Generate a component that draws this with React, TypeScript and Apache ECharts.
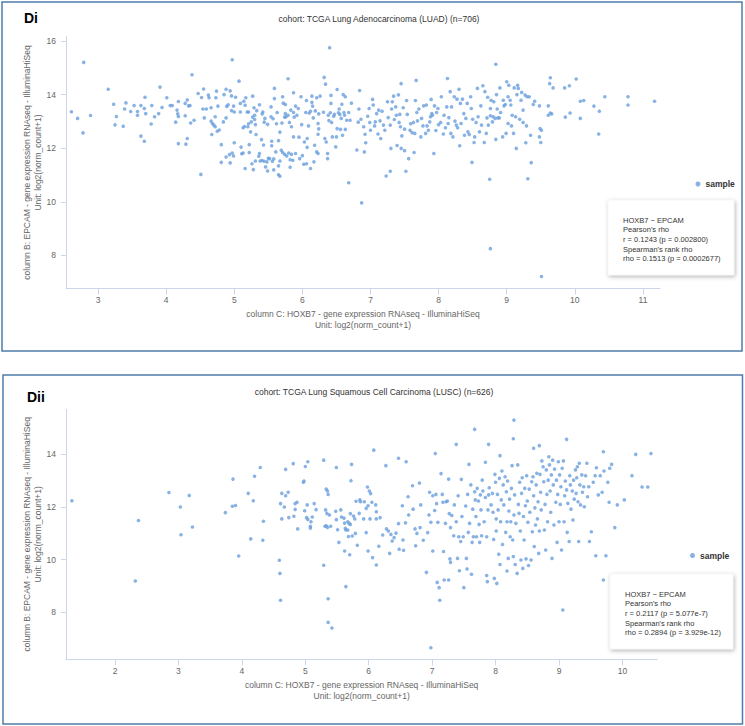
import React, { useEffect, useRef } from "react";
import * as echarts from "echarts";

const luadPoints: number[][] = [
[2.79,15.2],[2.61,13.36],[2.70,13.11],[2.78,12.57],[2.89,13.22],[3.15,14.2],[3.23,13.64],[3.27,13.18],[3.25,12.87],[3.37,12.82],[3.39,13.46],[3.41,13.69],[3.48,13.37],[3.53,13.59],[3.58,13.37],[3.58,13.23],[3.63,13.59],[3.63,12.45],[3.68,12.26],[3.69,13.9],[3.68,13.48],[3.70,13.29],[3.79,13.59],[3.78,12.9],[3.83,13.17],[3.89,13.29],[3.91,14.28],[3.94,13.52],[4.01,13.88],[4.06,13.59],[4.09,13.59],[4.14,12.97],[4.16,13.42],[4.17,13.28],[4.18,13.74],[4.18,13.18],[4.18,12.17],[4.28,13.67],[4.28,13.21],[4.29,12.15],[4.31,12.36],[4.31,13.8],[4.33,13.58],[4.35,13.59],[4.36,12.94],[4.38,14.74],[4.41,13.04],[4.47,14.04],[4.51,11.02],[4.52,13.89],[4.55,14.21],[4.54,13.46],[4.56,13.13],[4.59,13.46],[4.62,13.98],[4.63,13.88],[4.66,13.51],[4.66,13.01],[4.67,12.51],[4.68,12.92],[4.70,12.86],[4.72,13.17],[4.72,12.80],[4.73,13.88],[4.74,14.13],[4.75,12.63],[4.76,13.57],[4.78,12.68],[4.81,12.13],[4.81,11.47],[4.84,12.98],[4.85,14.0],[4.88,14.2],[4.88,13.13],[4.88,11.67],[4.89,13.56],[4.91,13.62],[4.93,11.76],[4.94,11.45],[4.94,14.14],[4.96,13.95],[4.96,13.4],[4.97,15.3],[4.97,11.82],[4.99,13.57],[4.99,11.71],[5.0,13.35],[5.0,12.2],[5.02,13.9],[5.07,14.5],[5.09,13.35],[5.09,13.67],[5.10,12.04],[5.11,11.79],[5.13,12.76],[5.13,11.82],[5.14,13.75],[5.15,12.81],[5.16,11.24],[5.16,13.6],[5.17,13.88],[5.19,13.35],[5.20,12.8],[5.21,13.35],[5.21,12.91],[5.22,12.13],[5.22,11.84],[5.24,12.61],[5.25,12.98],[5.26,11.42],[5.27,13.16],[5.27,13.94],[5.28,11.2],[5.29,13.51],[5.30,13.23],[5.30,13.07],[5.31,11.52],[5.31,12.88],[5.32,12.51],[5.33,13.4],[5.36,11.7],[5.37,13.62],[5.37,11.8],[5.38,11.52],[5.40,12.32],[5.41,13.28],[5.41,11.54],[5.42,13.35],[5.43,12.12],[5.44,12.97],[5.44,11.51],[5.45,13.11],[5.46,11.3],[5.48,11.49],[5.49,11.15],[5.49,12.89],[5.50,11.62],[5.52,11.61],[5.54,13.54],[5.54,13.17],[5.55,12.26],[5.55,12.09],[5.56,11.51],[5.57,13.1],[5.58,11.19],[5.58,11.6],[5.59,14.23],[5.59,13.85],[5.61,11.86],[5.62,12.91],[5.63,13.33],[5.65,12.28],[5.65,11.34],[5.65,11.01],[5.67,10.95],[5.67,12.6],[5.67,11.52],[5.69,11.92],[5.70,12.94],[5.71,13.92],[5.71,11.84],[5.72,13.68],[5.74,11.77],[5.74,13.16],[5.75,13.63],[5.75,13.29],[5.76,13.17],[5.77,11.71],[5.79,14.59],[5.79,13.23],[5.80,11.82],[5.81,12.96],[5.82,11.57],[5.82,11.29],[5.83,13.42],[5.84,11.77],[5.84,12.8],[5.86,11.55],[5.87,14.07],[5.87,13.33],[5.87,12.42],[5.88,13.16],[5.90,13.57],[5.90,11.8],[5.92,13.23],[5.94,13.48],[5.95,12.41],[5.96,11.61],[5.98,13.92],[5.99,12.88],[6.0,11.72],[6.02,11.4],[6.03,12.23],[6.05,13.33],[6.06,13.78],[6.06,11.42],[6.07,12.03],[6.07,12.36],[6.09,12.83],[6.10,13.31],[6.12,13.38],[6.12,11.24],[6.14,13.71],[6.14,13.94],[6.15,13.57],[6.16,13.13],[6.17,11.49],[6.18,12.11],[6.19,13.39],[6.21,11.86],[6.21,13.88],[6.23,12.92],[6.23,12.52],[6.23,11.8],[6.24,13.28],[6.24,12.72],[6.26,13.94],[6.31,13.34],[6.32,14.64],[6.34,14.39],[6.33,12.36],[6.35,12.23],[6.37,11.8],[6.37,11.61],[6.38,13.23],[6.39,13.03],[6.40,15.75],[6.41,13.32],[6.42,13.67],[6.42,13.97],[6.43,12.96],[6.44,12.42],[6.46,13.19],[6.47,13.26],[6.49,12.05],[6.50,12.42],[6.51,14.19],[6.51,12.73],[6.53,13.32],[6.54,13.46],[6.55,13.26],[6.56,12.7],[6.57,13.11],[6.58,13.64],[6.59,12.48],[6.60,14.0],[6.61,13.33],[6.62,13.23],[6.63,13.92],[6.63,12.7],[6.65,13.04],[6.68,10.71],[6.68,13.33],[6.70,13.04],[6.72,13.68],[6.80,11.93],[6.82,12.97],[6.83,13.46],[6.84,14.15],[6.87,9.96],
[6.91,11.86],[6.92,12.52],[6.93,12.2],[6.86,13.08],[6.90,12.8],[6.96,13.19],[6.98,13.48],[6.99,12.96],[7.0,12.67],[7.03,13.82],[7.04,13.61],[7.06,12.83],[7.07,12.98],[7.09,13.29],[7.11,12.53],[7.12,13.42],[7.14,13.02],[7.15,12.36],[7.17,13.38],[7.19,12.86],[7.21,12.67],[7.23,10.96],[7.25,13.73],[7.26,13.14],[7.29,11.14],[7.29,12.86],[7.30,11.99],[7.31,13.46],[7.32,13.73],[7.34,13.94],[7.35,13.07],[7.37,13.54],[7.38,13.23],[7.39,12.1],[7.41,13.99],[7.42,12.96],[7.43,13.26],[7.44,12.8],[7.45,14.41],[7.45,11.99],[7.46,12.46],[7.48,13.51],[7.50,11.91],[7.50,12.71],[7.52,11.14],[7.53,13.78],[7.54,13.26],[7.56,11.61],[7.58,12.67],[7.59,12.91],[7.61,12.58],[7.63,12.96],[7.64,11.84],[7.65,12.55],[7.66,13.78],[7.67,14.53],[7.68,13.33],[7.69,13.02],[7.71,13.46],[7.74,12.42],[7.75,13.11],[7.77,12.83],[7.78,13.58],[7.81,12.55],[7.82,13.61],[7.83,12.83],[7.85,12.67],[7.87,12.98],[7.88,13.17],[7.89,13.82],[7.90,13.29],[7.91,13.23],[7.93,11.8],[7.94,13.58],[7.96,12.66],[7.97,13.33],[7.99,13.48],[8.0,12.88],[8.03,12.96],[8.04,13.92],[8.07,12.53],[8.08,13.23],[8.10,12.76],[8.12,13.54],[8.13,14.6],[8.14,12.92],[8.15,13.14],[8.17,14.11],[8.18,12.55],[8.19,13.54],[8.21,12.42],[8.23,13.92],[8.24,13.01],[8.26,12.86],[8.27,13.83],[8.28,12.76],[8.30,14.2],[8.31,12.09],[8.32,13.67],[8.33,12.92],[8.35,13.83],[8.37,13.29],[8.38,12.48],[8.40,13.11],[8.42,13.67],[8.43,12.61],[8.45,12.51],[8.47,13.92],[8.48,13.48],[8.49,11.47],[8.50,13.08],[8.52,12.21],[8.53,12.42],[8.55,12.96],[8.57,14.23],[8.58,13.17],[8.60,12.61],[8.62,13.58],[8.63,12.86],[8.65,14.33],[8.67,12.21],[8.68,14.11],[8.70,12.55],[8.71,13.13],[8.72,13.9],[8.73,12.86],[8.75,10.84],[8.76,13.21],[8.76,13.48],[8.77,13.79],[8.79,12.98],[8.80,13.17],[8.81,13.73],[8.83,13.11],[8.84,15.13],[8.84,12.33],[8.85,14.0],[8.86,13.46],[8.87,13.13],[8.89,13.13],[8.90,14.25],[8.91,13.33],[8.94,12.42],[8.95,13.79],[8.96,13.58],[8.98,13.63],[8.99,12.55],[9.0,14.48],[9.02,12.92],[9.02,13.92],[9.03,14.35],[9.05,13.79],[9.06,13.61],[9.07,12.83],[9.08,13.23],[9.10,12.55],[9.11,14.25],[9.13,13.17],[9.14,11.99],[9.15,14.0],[9.16,14.35],[9.17,14.23],[9.19,13.08],[9.21,13.79],[9.22,14.08],[9.24,13.42],[9.24,12.96],[9.27,13.98],[9.28,12.2],[9.29,12.83],[9.30,13.92],[9.31,10.86],[9.33,13.92],[9.35,12.48],[9.36,11.46],[9.39,13.63],[9.41,13.75],[9.48,13.58],[9.48,12.42],[9.49,12.73],[9.50,12.21],[9.51,12.67],[8.76,8.25],[9.61,13.58],[9.61,13.23],[9.63,14.41],[9.64,14.63],[9.64,13.31],[9.66,13.28],[9.68,14.25],[9.85,14.25],[9.86,13.16],[9.92,14.33],[9.93,13.31],[10.02,14.58],[10.08,13.75],[10.08,13.11],[10.13,13.78],[10.28,13.57],[10.35,12.53],[10.36,13.38],[10.44,13.92],[10.78,13.92],[10.78,13.61],[11.17,13.75],[9.51,7.21]
];

const luscPoints: number[][] = [
[1.32,12.24],[2.32,9.19],[2.37,11.49],[2.85,12.55],[3.03,12.0],[3.04,10.95],[3.17,12.44],[3.22,11.24],[3.74,11.79],[3.85,12.03],[3.86,13.06],[3.90,12.06],[3.95,10.14],[4.10,12.52],[4.14,10.79],[4.18,12.24],[4.20,13.17],[4.29,13.5],[4.34,11.46],[4.33,10.74],[4.59,9.98],[4.60,9.48],[4.61,8.46],[4.61,12.13],[4.63,12.52],[4.63,11.55],[4.67,12.0],[4.69,13.43],[4.69,12.43],[4.73,12.56],[4.74,11.6],[4.81,13.65],[4.82,11.65],[4.84,12.13],[4.84,11.91],[4.87,12.18],[4.88,11.17],[4.97,12.94],[4.98,12.99],[5.0,13.54],[4.99,11.86],[5.02,11.6],[5.03,12.08],[5.04,13.72],[5.04,11.53],[5.08,11.27],[5.09,11.44],[5.08,11.2],[5.11,11.62],[5.14,12.13],[5.17,11.9],[5.29,13.78],[5.29,9.79],[5.31,11.27],[5.32,11.89],[5.33,11.29],[5.33,12.68],[5.35,12.61],[5.36,12.48],[5.36,8.52],[5.34,11.76],[5.35,11.23],[5.38,11.7],[5.40,11.27],[5.36,7.62],[5.42,7.41],[5.48,11.84],[5.49,13.5],[5.49,11.52],[5.51,11.14],[5.53,10.66],[5.56,11.89],[5.57,11.62],[5.61,11.58],[5.62,11.39],[5.62,10.33],[5.63,11.19],[5.64,8.98],[5.64,11.13],[5.67,11.44],[5.67,11.13],[5.68,10.88],[5.69,11.38],[5.70,10.19],[5.71,11.75],[5.71,11.34],[5.72,13.0],[5.73,13.62],[5.74,10.9],[5.76,11.66],[5.78,11.55],[5.79,11.0],[5.80,12.22],[5.82,10.55],[5.85,11.76],[5.86,12.27],
[6.08,14.16],[6.27,13.57],[6.47,13.85],[6.59,13.72],[7.05,14.03],[7.38,14.38],[7.67,14.95],[7.89,14.38],[8.07,13.95],[8.29,15.3],[8.28,14.59],[8.60,14.23],[8.69,14.33],[9.12,14.57],[9.70,14.1],[10.21,14.0],[10.45,14.03],[5.98,12.76],[6.01,12.61],[6.03,12.51],[5.87,12.2],[5.93,12.2],[5.96,11.95],[5.99,12.05],[6.05,12.18],[6.11,12.08],[6.12,11.82],[5.92,11.55],[6.02,11.55],[6.12,11.55],[6.18,11.6],[5.96,11.03],[5.99,10.33],[6.06,10.08],[6.12,9.8],[6.16,10.51],[6.22,10.94],[6.28,11.17],[6.31,11.09],[6.33,10.24],[6.35,10.96],[6.37,10.71],[6.40,10.84],[6.43,11.01],[6.47,11.37],[6.48,10.4],[6.53,12.05],[6.54,10.75],[6.55,10.36],[6.58,11.4],[6.62,12.39],[6.63,11.7],[6.69,12.81],[6.70,11.92],[6.73,11.17],[6.74,10.53],[6.76,11.0],[6.80,12.91],[6.81,11.22],[6.82,12.08],[6.86,10.74],[6.91,9.52],[6.93,11.03],[6.95,11.7],[6.96,12.56],[6.98,11.42],[7.01,10.33],[7.01,12.43],[7.04,11.87],[7.06,12.48],[7.07,12.13],[7.08,9.14],[7.09,11.42],[7.11,8.94],[7.12,8.46],[7.14,13.27],[7.16,12.48],[7.17,12.18],[7.18,10.31],[7.19,9.23],[7.21,11.38],[7.22,12.2],[7.24,12.23],[7.26,13.06],[7.26,9.23],[7.27,11.75],[7.28,10.03],[7.29,9.9],[7.29,11.22],[7.31,11.68],[7.34,10.91],[7.35,12.08],[7.38,11.44],[7.40,10.05],[7.41,12.43],[7.42,10.87],[7.43,9.58],[7.45,10.69],[7.46,13.05],[7.47,11.64],[7.49,10.87],[7.50,8.94],[7.53,12.04],[7.54,10.05],[7.55,9.65],[7.56,12.48],[7.57,11.04],[7.58,13.62],[7.59,11.38],[7.61,12.84],[7.62,9.45],[7.63,10.66],[7.64,11.92],[7.65,10.87],[7.67,12.58],[7.68,12.27],[7.69,11.64],[7.70,10.87],[7.71,12.71],[7.73,12.23],[7.74,11.34],[7.75,10.66],[7.76,12.46],[7.77,11.89],[7.78,10.91],[7.79,13.02],[7.80,12.61],[7.82,11.44],[7.84,13.7],[7.84,12.36],[7.86,10.87],[7.86,9.4],[7.87,9.17],[7.88,11.89],[7.89,12.46],[7.90,12.73],[7.93,12.08],[7.95,12.52],[7.96,11.8],[7.97,10.77],[7.98,9.29],[7.99,13.24],[8.0,12.94],[8.01,11.55],[8.01,11.09],[8.02,9.1],[8.03,12.48],[8.04,11.89],[8.05,10.21],[8.06,13.09],[8.07,9.82],[8.08,11.44],[8.09,12.27],[8.10,13.37],[8.11,10.58],[8.12,12.84],[8.13,12.08],[8.15,13.15],[8.16,11.04],[8.17,12.58],[8.18,11.44],[8.18,9.57],[8.19,12.99],[8.20,10.05],[8.21,11.85],[8.22,12.3],[8.23,10.87],[8.24,11.44],[8.25,12.71],[8.26,13.57],[8.27,10.75],[8.28,10.12],[8.29,11.7],[8.30,12.46],[8.31,9.82],[8.32,11.38],[8.34,9.48],[8.35,13.6],[8.36,12.1],[8.37,11.76],[8.38,12.94],[8.39,11.09],[8.40,9.99],[8.41,12.52],[8.42,13.11],[8.43,9.67],[8.44,11.64],[8.45,10.75],[8.46,12.71],[8.47,12.05],[8.48,10.03],[8.49,13.19],[8.50,12.23],[8.51,11.42],[8.52,9.78],[8.53,12.68],[8.54,11.8],[8.56,9.99],[8.57,12.96],[8.58,11.06],[8.59,13.15],[8.60,12.43],[8.61,10.5],[8.62,11.97],[8.63,11.32],[8.64,12.84],[8.65,13.28],[8.66,11.55],[8.67,12.2],[8.68,10.24],[8.69,11.09],[8.70,13.24],[8.71,12.56],[8.72,11.89],[8.73,13.75],[8.75,13.53],[8.76,12.96],[8.77,11.13],[8.78,12.1],[8.79,10.37],[8.80,13.41],[8.81,12.48],[8.82,11.44],[8.83,13.02],[8.84,13.91],[8.85,13.6],[8.86,12.61],[8.87,11.8],[8.88,13.22],[8.89,10.05],[8.90,13.78],[8.91,12.84],[8.92,11.32],[8.93,13.44],[8.95,12.18],[8.96,13.02],[8.97,10.66],[8.98,12.48],[8.99,13.72],[9.0,11.44],[9.01,13.22],[9.02,12.1],[9.03,12.77],[9.04,10.37],[9.05,13.47],[9.06,8.09],[9.07,13.75],[9.08,11.44],[9.09,12.43],[9.10,12.99],[9.12,12.65],[9.13,11.04],[9.14,12.14],[9.16,10.69],[9.17,13.19],[9.18,12.84],[9.19,11.92],[9.21,12.61],[9.22,11.51],[9.23,13.02],[9.24,12.3],[9.26,13.41],[9.27,12.52],[9.28,13.11],[9.29,13.53],[9.30,12.2],[9.31,10.69],[9.32,13.66],[9.33,12.84],[9.34,12.08],[9.36,13.22],[9.37,12.56],[9.39,12.77],[9.40,12.01],[9.42,13.19],[9.44,13.66],[9.45,12.39],[9.47,12.77],[9.48,10.69],[9.51,11.06],[9.54,12.94],[9.57,13.19],[9.58,10.15],[9.59,13.49],[9.62,12.46],[9.65,13.19],[9.68,12.56],[9.70,9.23],[9.71,13.37],[9.74,10.15],[9.77,12.94],[9.79,12.18],[9.80,13.47],[9.83,13.62],[9.88,11.22],[9.92,12.08],[10.03,12.27],[10.15,13.19],[10.31,12.76],[10.40,12.76],[6.98,6.66]
];

const xTicksLuad = [3, 4, 5, 6, 7, 8, 9, 10, 11];
const yTicksLuad = [8, 10, 12, 14, 16];
const xTicksLusc = [2, 3, 4, 5, 6, 7, 8, 9, 10];
const yTicksLusc = [8, 10, 12, 14];

const panelLabels = ["Di", "Dii"];
const cohortTitles = [
  "cohort: TCGA Lung Adenocarcinoma (LUAD) (n=706)",
  "cohort: TCGA Lung Squamous Cell Carcinoma (LUSC) (n=626)",
];
const xAxisName = "column C: HOXB7 - gene expression RNAseq - IlluminaHiSeq\nUnit: log2(norm_count+1)";
const yAxisName = "column B: EPCAM - gene expression RNAseq - IlluminaHiSeq\nUnit: log2(norm_count+1)";
const seriesName = "sample";
const statsLuad = [
  "HOXB7 ~ EPCAM",
  "Pearson's rho",
  "r = 0.1243 (p = 0.002800)",
  "Spearman's rank rho",
  "rho = 0.1513 (p = 0.0002677)",
];
const statsLusc = [
  "HOXB7 ~ EPCAM",
  "Pearson's rho",
  "r = 0.2117 (p = 5.077e-7)",
  "Spearman's rank rho",
  "rho = 0.2894 (p = 3.929e-12)",
];

const FONT = "'Liberation Sans', Arial, Helvetica, sans-serif";
const AXIS_COLOR = "#ccd6eb";
const LABEL_COLOR = "#666666";
const DOT_COLOR = "#6a9fdc";

function makeX(gridIndex: number, min: number, max: number, ticks: number[]) {
  return {
    type: "value",
    gridIndex,
    min,
    max,
    name: xAxisName,
    nameLocation: "middle",
    nameGap: 20,
    nameTextStyle: { color: LABEL_COLOR, fontSize: 8.5, fontFamily: FONT, lineHeight: 11 },
    axisLine: { show: true, onZero: false, lineStyle: { color: AXIS_COLOR, width: 1 } },
    axisTick: { show: true, length: 6, customValues: ticks, lineStyle: { color: AXIS_COLOR } },
    axisLabel: { customValues: ticks, color: LABEL_COLOR, fontSize: 8.5, fontFamily: FONT, margin: 7 },
    splitLine: { show: false },
  };
}

function makeY(gridIndex: number, min: number, max: number, ticks: number[]) {
  return {
    type: "value",
    gridIndex,
    min,
    max,
    name: yAxisName,
    nameLocation: "middle",
    nameGap: 23,
    nameMoveOverlap: false,
    nameRotate: 90,
    nameTextStyle: { color: LABEL_COLOR, fontSize: 8.5, fontFamily: FONT, lineHeight: 11 },
    axisLine: { show: true, onZero: false, lineStyle: { color: AXIS_COLOR, width: 1 } },
    axisTick: { show: true, length: 5, customValues: ticks, lineStyle: { color: AXIS_COLOR } },
    axisLabel: { customValues: ticks, color: LABEL_COLOR, fontSize: 8.5, fontFamily: FONT, margin: 10 },
    splitLine: { show: false },
  };
}

function statsBox(x: number, y: number, w: number, h: number, lines: string[]) {
  return [
    {
      type: "rect",
      shape: { x, y, width: w, height: h },
      style: {
        fill: "#ffffff",
        stroke: "#eeeeee",
        lineWidth: 0.5,
        shadowBlur: 4,
        shadowColor: "rgba(0,0,0,0.3)",
        shadowOffsetX: 1,
        shadowOffsetY: 1.5,
      },
      z: 10,
    },
    {
      type: "text",
      x: x + 15,
      y: y + 15.5,
      style: {
        text: lines.join("\n"),
        font: `7.5px ${FONT}`,
        fill: "#333333",
        lineHeight: 9.6,
      },
      z: 11,
    },
  ];
}

export default function App() {
  const ref = useRef<HTMLDivElement>(null);

  useEffect(() => {
    document.body.style.margin = "0";
    if (!ref.current) return;
    const chart = echarts.init(ref.current, undefined, { renderer: "svg" });
    const option = {
      animation: false,
      backgroundColor: "#ffffff",
      textStyle: { fontFamily: FONT },
      grid: [
        { left: 66, top: 36.7, width: 594, height: 251.6 },
        { left: 66, top: 409.3, width: 591.3, height: 250 },
      ],
      xAxis: [
        makeX(0, 2.53, 11.25, xTicksLuad),
        makeX(1, 1.227, 10.55, xTicksLusc),
      ],
      yAxis: [
        makeY(0, 6.77, 16.16, yTicksLuad),
        makeY(1, 6.22, 15.71, yTicksLusc),
      ],
      legend: [
        {
          left: 695.5,
          top: 179.5,
          padding: 0,
          data: [seriesName],
          icon: "circle",
          itemWidth: 5,
          itemHeight: 5,
          selectedMode: false,
          textStyle: { fontWeight: "bold", fontSize: 8.5, color: "#333333", fontFamily: FONT },
        },
        {
          left: 690,
          top: 551,
          padding: 0,
          data: [seriesName],
          icon: "circle",
          itemWidth: 5,
          itemHeight: 5,
          selectedMode: false,
          textStyle: { fontWeight: "bold", fontSize: 8.5, color: "#333333", fontFamily: FONT },
        },
      ],
      series: [
        {
          name: seriesName,
          type: "scatter",
          xAxisIndex: 0,
          yAxisIndex: 0,
          data: luadPoints,
          symbolSize: 3.6,
          itemStyle: { color: DOT_COLOR },
        },
        {
          name: seriesName,
          type: "scatter",
          xAxisIndex: 1,
          yAxisIndex: 1,
          data: luscPoints,
          symbolSize: 3.6,
          itemStyle: { color: DOT_COLOR },
        },
      ],
      graphic: [
        {
          type: "rect",
          shape: { x: 2, y: 2, width: 740, height: 349 },
          style: { fill: "none", stroke: "#4e7cab", lineWidth: 1.5 },
          silent: true,
        },
        {
          type: "rect",
          shape: { x: 3, y: 375, width: 739.5, height: 349 },
          style: { fill: "none", stroke: "#4e7cab", lineWidth: 1.5 },
          silent: true,
        },
        {
          type: "text",
          x: 24,
          y: 11,
          style: { text: panelLabels[0], font: `bold 14px ${FONT}`, fill: "#000000" },
        },
        {
          type: "text",
          x: 27,
          y: 390,
          style: { text: panelLabels[1], font: `bold 14px ${FONT}`, fill: "#000000" },
        },
        {
          type: "text",
          x: 379,
          y: 19,
          style: {
            text: cohortTitles[0],
            font: `8.5px ${FONT}`,
            fill: "#333333",
            align: "center",
            verticalAlign: "middle",
          },
        },
        {
          type: "text",
          x: 374,
          y: 391.7,
          style: {
            text: cohortTitles[1],
            font: `8.5px ${FONT}`,
            fill: "#333333",
            align: "center",
            verticalAlign: "middle",
          },
        },
        ...statsBox(608, 200, 126, 75, statsLuad),
        ...statsBox(610, 574, 123, 75, statsLusc),
      ],
    };
    chart.setOption(option as any);
    return () => {
      chart.dispose();
    };
  }, []);

  return <div ref={ref} style={{ width: 745, height: 726 }} />;
}
